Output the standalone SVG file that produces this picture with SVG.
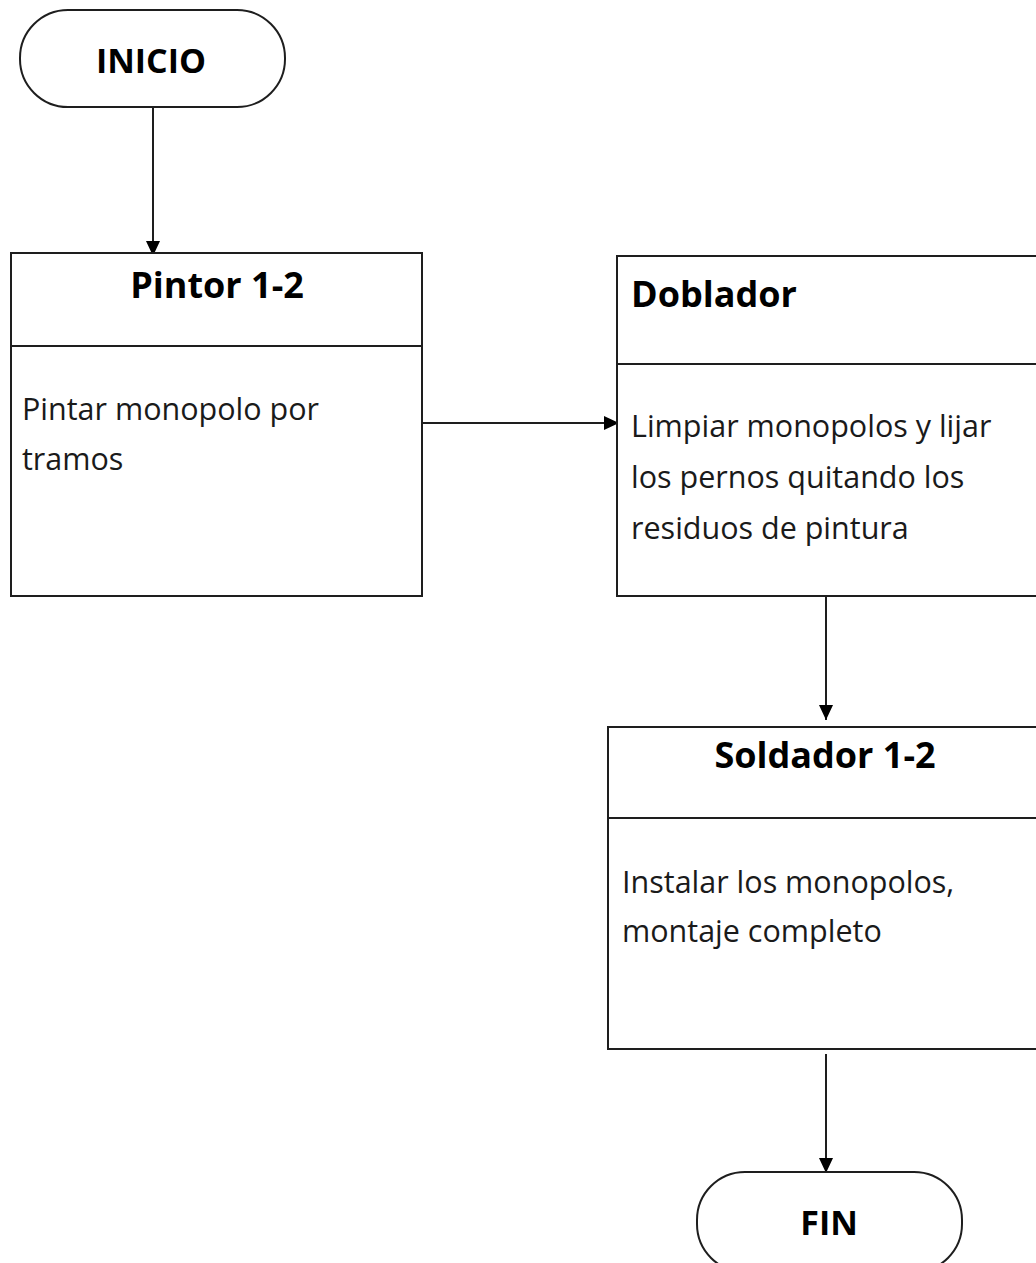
<svg xmlns="http://www.w3.org/2000/svg" width="1036" height="1263" viewBox="0 0 1036 1263">
  <style>
    .shape { fill: #ffffff; stroke: #1e1e1e; stroke-width: 2; }
    .div { stroke: #1e1e1e; stroke-width: 2; }
    .title { font-family: "Open Sans", "Noto Sans", sans-serif; font-weight: bold; font-size: 36px; fill: #000000; }
    .term { font-family: "Open Sans", "Noto Sans", sans-serif; font-weight: bold; font-size: 34px; fill: #000000; }
    .body { font-family: "Open Sans", "Noto Sans", sans-serif; font-size: 30.5px; fill: #1a1a1a; }
    .conn { fill: none; stroke: #1e1e1e; stroke-width: 2; }
  </style>
  <defs>
    <marker id="arrow" markerUnits="userSpaceOnUse" markerWidth="15" markerHeight="16" refX="15" refY="8" orient="auto">
      <path d="M0,1 L15,8 L0,15 z" fill="#000000"/>
    </marker>
  </defs>
  <rect width="1036" height="1263" fill="#ffffff"/>

  <g id="connectors">
    <line class="conn" x1="153" y1="107" x2="153" y2="256" marker-end="url(#arrow)"/>
    <line class="conn" x1="422" y1="423" x2="619" y2="423" marker-end="url(#arrow)"/>
    <line class="conn" x1="826" y1="596" x2="826" y2="720" marker-end="url(#arrow)"/>
    <line class="conn" x1="826" y1="1054" x2="826" y2="1173" marker-end="url(#arrow)"/>
  </g>

  <g id="inicio">
    <rect class="shape" x="20" y="10" width="265" height="97" rx="48" ry="48"/>
    <text class="term" x="151" y="73" text-anchor="middle">INICIO</text>
  </g>

  <g id="pintor">
    <rect class="shape" x="11" y="253" width="411" height="343"/>
    <line class="div" x1="11" y1="346" x2="422" y2="346"/>
    <text class="title" x="217" y="298" text-anchor="middle">Pintor 1-2</text>
    <text class="body" x="22" y="420">Pintar monopolo por</text>
    <text class="body" x="22" y="470">tramos</text>
  </g>

  <g id="doblador">
    <rect class="shape" x="617" y="256" width="440" height="340"/>
    <line class="div" x1="617" y1="364" x2="1036" y2="364"/>
    <text class="title" x="631" y="307">Doblador</text>
    <text class="body" x="631" y="437">Limpiar monopolos y lijar</text>
    <text class="body" x="631" y="488">los pernos quitando los</text>
    <text class="body" x="631" y="539">residuos de pintura</text>
  </g>

  <g id="soldador">
    <rect class="shape" x="608" y="727" width="450" height="322"/>
    <line class="div" x1="608" y1="818" x2="1036" y2="818"/>
    <text class="title" x="825" y="768" text-anchor="middle">Soldador 1-2</text>
    <text class="body" x="622" y="893">Instalar los monopolos,</text>
    <text class="body" x="622" y="942">montaje completo</text>
  </g>

  <g id="fin">
    <rect class="shape" x="697" y="1172" width="265" height="100" rx="48" ry="48"/>
    <text class="term" x="829" y="1235" text-anchor="middle">FIN</text>
  </g>
</svg>
